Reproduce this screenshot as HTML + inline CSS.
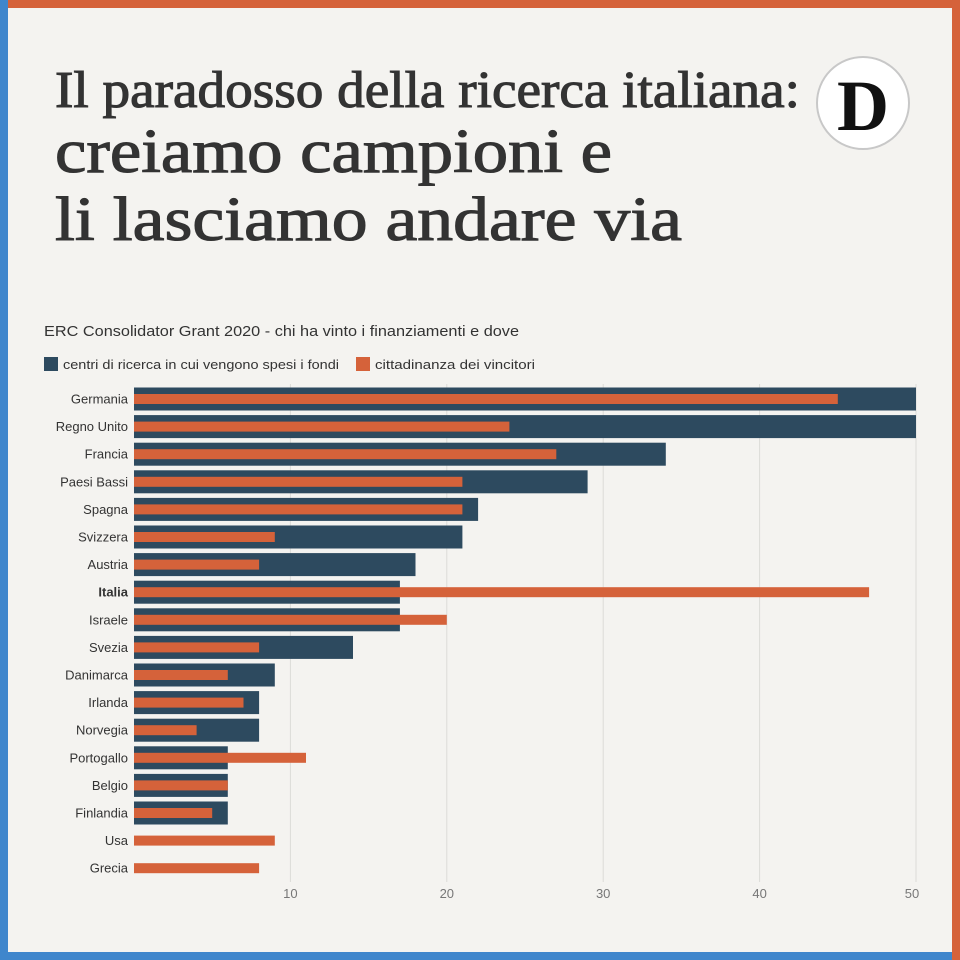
<!DOCTYPE html>
<html><head><meta charset="utf-8"><style>
html,body{margin:0;padding:0;background:#f4f3f0}
svg{display:block}
</style></head><body>
<svg width="960" height="960" viewBox="0 0 960 960" xmlns="http://www.w3.org/2000/svg">
<rect width="960" height="960" fill="#f4f3f0"/>
<rect x="0" y="0" width="960" height="8" fill="#d5623a"/>
<rect x="952" y="0" width="8" height="960" fill="#d5623a"/>
<rect x="0" y="0" width="8" height="960" fill="#3f86cc"/>
<rect x="0" y="952" width="952" height="8" fill="#3f86cc"/>

<g font-family="Liberation Serif, serif" fill="#333" stroke="#333" stroke-width="1.1">
<text x="55" y="107" font-size="52" textLength="745" lengthAdjust="spacingAndGlyphs">Il paradosso della ricerca italiana:</text>
<text x="55" y="172" font-size="62" textLength="557" lengthAdjust="spacingAndGlyphs">creiamo campioni e</text>
<text x="55" y="240" font-size="62" textLength="627" lengthAdjust="spacingAndGlyphs">li lasciamo andare via</text>
</g>
<circle cx="863" cy="103" r="46" fill="#fff" stroke="#c8c8c8" stroke-width="2"/>
<text x="863" y="130" font-family="Liberation Serif, serif" font-weight="bold" font-size="72" text-anchor="middle" fill="#111">D</text>

<g font-family="Liberation Sans, sans-serif" fill="#333">
<text x="44" y="336" font-size="15" textLength="475" lengthAdjust="spacingAndGlyphs">ERC Consolidator Grant 2020 - chi ha vinto i finanziamenti e dove</text>
<rect x="44" y="357" width="14" height="14" fill="#2d4a5f"/>
<text x="63" y="369" font-size="13" textLength="276" lengthAdjust="spacingAndGlyphs">centri di ricerca in cui vengono spesi i fondi</text>
<rect x="356" y="357" width="14" height="14" fill="#d5623a"/>
<text x="375" y="369" font-size="13" textLength="160" lengthAdjust="spacingAndGlyphs">cittadinanza dei vincitori</text>
</g>

<g stroke="#dcdbd8" stroke-width="1">
<line x1="290.4" y1="384" x2="290.4" y2="882"/>
<line x1="446.8" y1="384" x2="446.8" y2="882"/>
<line x1="603.2" y1="384" x2="603.2" y2="882"/>
<line x1="759.6" y1="384" x2="759.6" y2="882"/>
<line x1="916" y1="384" x2="916" y2="882"/>
</g>
<g font-family="Liberation Sans, sans-serif" font-size="13" fill="#777" text-anchor="middle">
<text x="290.4" y="898">10</text><text x="446.8" y="898">20</text><text x="603.2" y="898">30</text><text x="759.6" y="898">40</text><text x="912" y="898">50</text>
</g>

<g fill="#2d4a5f">
<rect x="134" y="387.5" width="782" height="23"/>
<rect x="134" y="415.1" width="782" height="23"/>
<rect x="134" y="442.7" width="531.8" height="23"/>
<rect x="134" y="470.3" width="453.6" height="23"/>
<rect x="134" y="497.9" width="344.1" height="23"/>
<rect x="134" y="525.5" width="328.4" height="23"/>
<rect x="134" y="553.1" width="281.5" height="23"/>
<rect x="134" y="580.7" width="265.9" height="23"/>
<rect x="134" y="608.3" width="265.9" height="23"/>
<rect x="134" y="635.9" width="219" height="23"/>
<rect x="134" y="663.5" width="140.8" height="23"/>
<rect x="134" y="691.1" width="125.1" height="23"/>
<rect x="134" y="718.7" width="125.1" height="23"/>
<rect x="134" y="746.3" width="93.8" height="23"/>
<rect x="134" y="773.9" width="93.8" height="23"/>
<rect x="134" y="801.5" width="93.8" height="23"/>
</g>
<g fill="#d5623a">
<rect x="134" y="394" width="703.8" height="10"/>
<rect x="134" y="421.6" width="375.4" height="10"/>
<rect x="134" y="449.2" width="422.3" height="10"/>
<rect x="134" y="476.8" width="328.4" height="10"/>
<rect x="134" y="504.4" width="328.4" height="10"/>
<rect x="134" y="532" width="140.8" height="10"/>
<rect x="134" y="559.6" width="125.1" height="10"/>
<rect x="134" y="587.2" width="735.1" height="10"/>
<rect x="134" y="614.8" width="312.8" height="10"/>
<rect x="134" y="642.4" width="125.1" height="10"/>
<rect x="134" y="670" width="93.8" height="10"/>
<rect x="134" y="697.6" width="109.5" height="10"/>
<rect x="134" y="725.2" width="62.6" height="10"/>
<rect x="134" y="752.8" width="172" height="10"/>
<rect x="134" y="780.4" width="93.8" height="10"/>
<rect x="134" y="808" width="78.2" height="10"/>
<rect x="134" y="835.6" width="140.8" height="10"/>
<rect x="134" y="863.2" width="125.1" height="10"/>
</g>
<g font-family="Liberation Sans, sans-serif" font-size="13" fill="#333" text-anchor="end">
<text x="128" y="403.5">Germania</text>
<text x="128" y="431.1">Regno Unito</text>
<text x="128" y="458.7">Francia</text>
<text x="128" y="486.3">Paesi Bassi</text>
<text x="128" y="513.9">Spagna</text>
<text x="128" y="541.5">Svizzera</text>
<text x="128" y="569.1">Austria</text>
<text x="128" y="596.7" font-weight="bold">Italia</text>
<text x="128" y="624.3">Israele</text>
<text x="128" y="651.9">Svezia</text>
<text x="128" y="679.5">Danimarca</text>
<text x="128" y="707.1">Irlanda</text>
<text x="128" y="734.7">Norvegia</text>
<text x="128" y="762.3">Portogallo</text>
<text x="128" y="789.9">Belgio</text>
<text x="128" y="817.5">Finlandia</text>
<text x="128" y="845.1">Usa</text>
<text x="128" y="872.7">Grecia</text>
</g>
</svg>
</body></html>
